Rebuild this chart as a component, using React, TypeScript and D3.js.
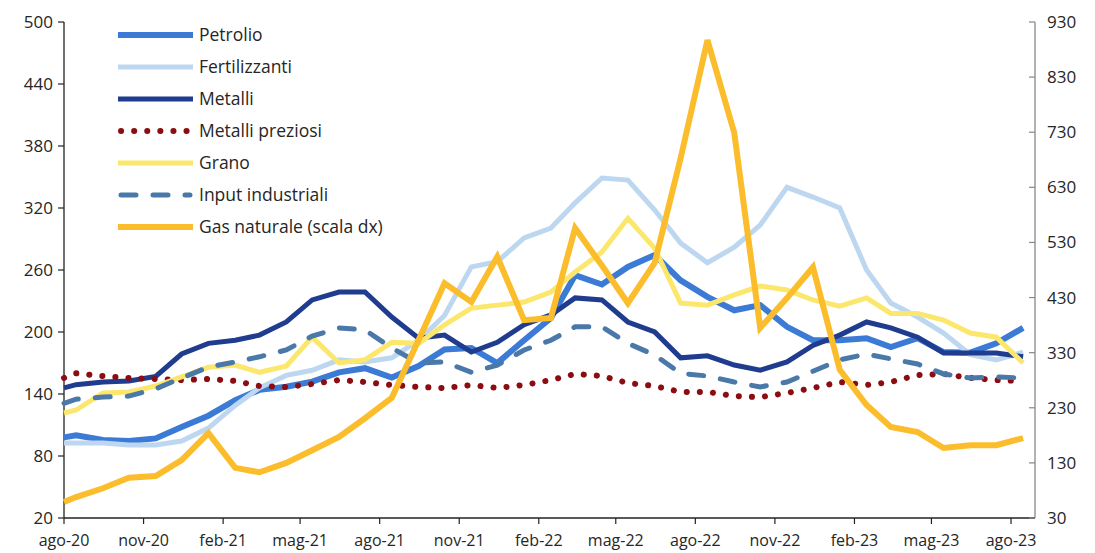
import React from "react";
import * as d3 from "d3";

const dates: string[] = [
  "2020-08-01", "2020-08-15", "2020-09-15", "2020-10-15", "2020-11-15", "2020-12-15",
  "2021-01-15", "2021-02-15", "2021-03-15", "2021-04-15", "2021-05-15", "2021-06-15",
  "2021-07-15", "2021-08-15", "2021-09-15", "2021-10-15", "2021-11-15", "2021-12-15",
  "2022-01-15", "2022-02-15", "2022-03-15", "2022-04-15", "2022-05-15", "2022-06-15",
  "2022-07-15", "2022-08-15", "2022-09-15", "2022-10-15", "2022-11-15", "2022-12-15",
  "2023-01-15", "2023-02-15", "2023-03-15", "2023-04-15", "2023-05-15", "2023-06-15",
  "2023-07-15", "2023-08-15",
];

const petrolio = [98, 100, 95.5, 94.5, 97, 108, 119, 134, 144, 147, 152, 161, 165, 156, 167, 183, 184.5, 170, 192, 213.5, 255, 246, 263, 274.5, 250, 234, 221, 226, 205, 192, 192, 194, 185.5, 194, 180.6, 180, 189, 204];
const fertilizzanti = [92.6, 92.6, 92.6, 90.6, 90.6, 94.5, 107, 129, 146, 158, 163, 173, 171, 175, 192, 216, 263, 268, 291, 300.6, 325, 349, 347, 318, 286, 267, 282, 303.5, 340, 330.6, 320, 260, 228, 214.5, 199, 178, 173, 180.6];
const metalli = [146, 149, 151.6, 152.6, 157, 178.7, 189, 192, 197, 209.7, 231, 238.7, 238.7, 214.5, 194, 197, 180.6, 190, 207, 216.5, 233, 231, 209.7, 200, 175, 177, 168, 163, 171, 187, 197, 209.7, 204, 195, 179.7, 179.7, 179.7, 176];
const metalliPreziosi = [155.5, 160, 157.4, 155.5, 154.5, 153.5, 154.5, 152.6, 147.7, 146.8, 149.7, 153.5, 151.6, 148.7, 146.8, 145.8, 148.7, 145.8, 148.7, 153.5, 159.4, 157.4, 150.6, 147.7, 142, 142, 138, 137, 141, 145.8, 151.6, 148.7, 151.6, 158.4, 159.4, 155.5, 153.5, 152.6];
const grano = [121.6, 124.5, 141, 142, 147.7, 156.5, 166, 168, 161, 167, 195, 170, 173, 190, 189, 207, 223, 226, 229, 238.7, 258, 277.4, 310, 281, 228, 226, 236, 244.5, 240.6, 231, 225, 233, 218, 218, 211.6, 199, 195, 170];
const inputIndustriali = [131, 135, 137, 138, 145, 155.5, 166, 171, 176, 182.6, 196, 204, 202, 184.5, 170, 171, 161, 168, 182.6, 192, 205, 205, 189, 177.7, 160, 157.4, 151.6, 146.8, 151.6, 162, 173, 178.7, 174, 169, 159.4, 155.5, 156.5, 155.5];
const gasNaturale = [59, 68, 84, 103, 106, 135, 184, 121, 113, 130, 153, 177, 211, 248, 353, 456, 422, 504, 389, 393, 556, 488, 420, 493, 683, 897, 729, 375, 429, 485, 299, 235, 195, 186, 157, 162, 162, 175];

const leftTicks = [20, 80, 140, 200, 260, 320, 380, 440, 500];
const rightTicks = [30, 130, 230, 330, 430, 530, 630, 730, 830, 930];
const xTickDates = [
  "2020-08-01", "2020-11-01", "2021-02-01", "2021-05-01", "2021-08-01", "2021-11-01",
  "2022-02-01", "2022-05-01", "2022-08-01", "2022-11-01", "2023-02-01", "2023-05-01", "2023-08-01",
];
const xTickLabels = ["ago-20", "nov-20", "feb-21", "mag-21", "ago-21", "nov-21", "feb-22", "mag-22", "ago-22", "nov-22", "feb-23", "mag-23", "ago-23"];

type Series = { name: string; values: number[]; color: string; width: number; dash?: string; cap: string; right?: boolean };

const series: Series[] = [
  { name: "Petrolio", values: petrolio, color: "#3b7bd6", width: 6, cap: "butt" },
  { name: "Fertilizzanti", values: fertilizzanti, color: "#bdd7f0", width: 5, cap: "butt" },
  { name: "Metalli", values: metalli, color: "#1f3c8f", width: 5, cap: "butt" },
  { name: "Metalli preziosi", values: metalliPreziosi, color: "#8b0d12", width: 6, dash: "0.1 13", cap: "round" },
  { name: "Grano", values: grano, color: "#fbe76c", width: 5, cap: "butt" },
  { name: "Input industriali", values: inputIndustriali, color: "#4a78a8", width: 5, dash: "15 17", cap: "round" },
  { name: "Gas naturale (scala dx)", values: gasNaturale, color: "#fbbd2b", width: 6, cap: "butt", right: true },
];

const parse = d3.timeParse("%Y-%m-%d");

export default function App() {
  const W = 1095, H = 553;
  const x0 = 64, xEnd = 1035, yTop = 22, yBot = 518;
  const x = d3.scaleTime()
    .domain([parse("2020-08-01") as Date, parse("2023-08-01") as Date])
    .range([x0, 1011]);
  const yL = d3.scaleLinear().domain([20, 500]).range([yBot, yTop]);
  const yR = d3.scaleLinear().domain([30, 930]).range([yBot, yTop]);
  const ds = dates.map((d) => parse(d) as Date);
  const font = "'Open Sans', 'Liberation Sans', sans-serif";
  const textColor = "#262626";

  return (
    <svg width={W} height={H} style={{ position: "absolute", left: 0, top: 0, background: "#fff" }}>
      {/* axes */}
      <line x1={x0} y1={yTop} x2={x0} y2={yBot} stroke="#222" strokeWidth={1.3} />
      <line x1={xEnd} y1={yTop} x2={xEnd} y2={yBot} stroke="#888" strokeWidth={1.3} />
      <line x1={x0} y1={yBot} x2={xEnd} y2={yBot} stroke="#222" strokeWidth={1.3} />
      {leftTicks.map((t) => (
        <g key={"l" + t}>
          <line x1={x0 - 6} x2={x0} y1={yL(t)} y2={yL(t)} stroke="#222" strokeWidth={1.2} />
          <text x={53} y={yL(t)} dy="0.35em" textAnchor="end" fontFamily={font} fontSize={17} fill={textColor}>{t}</text>
        </g>
      ))}
      {rightTicks.map((t) => (
        <g key={"r" + t}>
          <line x1={xEnd - 6} x2={xEnd} y1={yR(t)} y2={yR(t)} stroke="#888" strokeWidth={1.2} />
          <text x={1047} y={yR(t)} dy="0.35em" textAnchor="start" fontFamily={font} fontSize={17} fill={textColor}>{t}</text>
        </g>
      ))}
      {xTickDates.map((d, i) => {
        const xx = x(parse(d) as Date);
        return (
          <g key={"x" + d}>
            <line x1={xx} x2={xx} y1={yBot} y2={yBot + 6} stroke="#222" strokeWidth={1.2} />
            <text x={xx} y={546} textAnchor="middle" fontFamily={font} fontSize={16} fill={textColor}>{xTickLabels[i]}</text>
          </g>
        );
      })}
      {/* lines */}
      {series.map((s) => {
        const ys = s.right ? yR : yL;
        const gen = d3.line<number>().x((_, i) => x(ds[i])).y((v) => ys(v));
        return (
          <path key={s.name} d={gen(s.values) || ""} fill="none" stroke={s.color} strokeWidth={s.width}
            strokeDasharray={s.dash} strokeLinecap={s.cap as any} strokeLinejoin="miter" strokeMiterlimit={3} />
        );
      })}
      {/* legend */}
      {series.map((s, i) => {
        const ly = 35 + i * 32;
        return (
          <g key={"lg" + s.name}>
            <line x1={s.dash ? 121 : 118} x2={s.dash ? 190 : 193} y1={ly} y2={ly} stroke={s.color} strokeWidth={s.width}
              strokeDasharray={s.dash} strokeLinecap={s.cap as any} />
            <text x={199} y={ly} dy="0.35em" fontFamily={font} fontSize={17.5} fill={textColor}>{s.name}</text>
          </g>
        );
      })}
    </svg>
  );
}
